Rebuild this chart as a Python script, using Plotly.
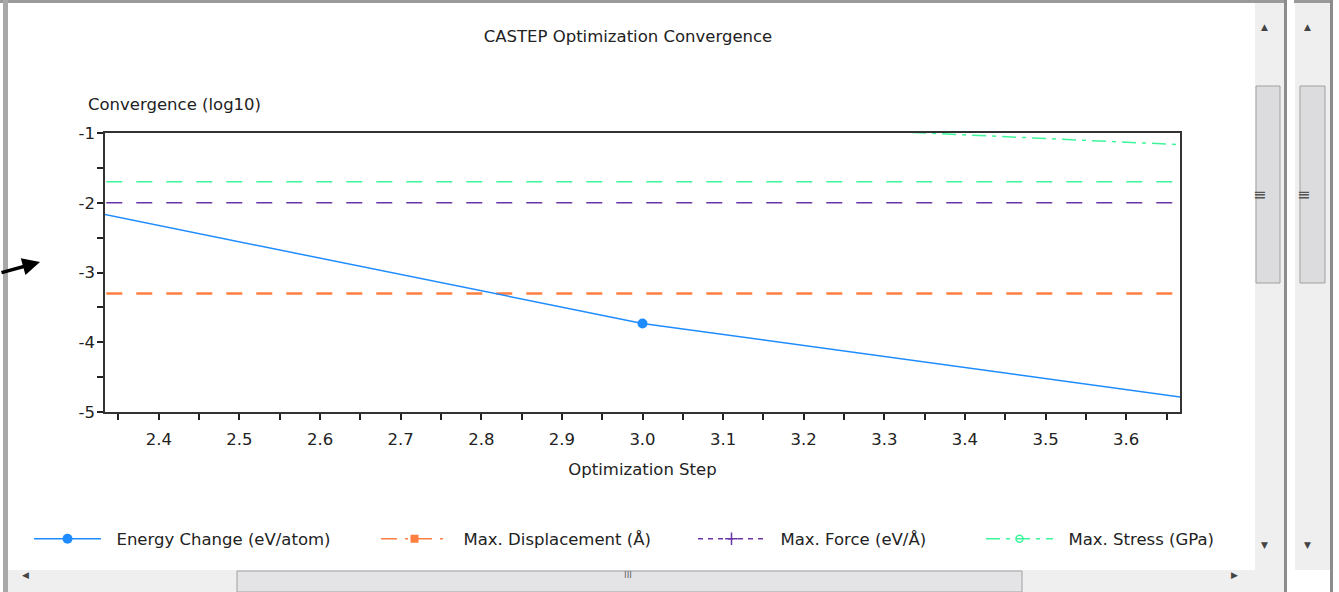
import plotly.graph_objects as go

# ---- data ----
steps = [2, 3, 4]
energy_change = [-1.39, -3.73, -5.31]          # log10(eV/atom)
stress_steps = [3, 4]
max_stress = [-0.815, -1.343]                  # log10(GPa)
tol_displacement = -3.301                      # log10(5e-4 A)
tol_force = -2.0                               # log10(0.01 eV/A)
tol_stress = -1.699                            # log10(0.02 GPa)
tol_x = [2, 4]

x_range = [2.3333, 3.6667]
y_range = [-5, -1]
y_tick_vals = [-5, -4, -3, -2, -1]
y_tick_labels = ["-5", "-4", "-3", "-2", "-1"]

BLUE = "#1E8CFF"
ORANGE = "#FF7F40"
PURPLE = "#6A35A8"
GREEN = "#3DF59A"
FONT = "DejaVu Sans"
FS = 16.5

W, H = 1339, 592
L, R, T, B = 105, 1180, 133, 412


def px(x):
    return (x - L) / (R - L)


def py(y):
    return (B - y) / (B - T)


NB = "\u00a0\u00a0"

fig = go.Figure()

# tolerance lines (no legend)
fig.add_trace(go.Scatter(x=tol_x, y=[tol_stress] * 2, mode="lines", showlegend=False,
                         line=dict(color=GREEN, width=1.5, dash="16px,14px"), hoverinfo="skip"))
fig.add_trace(go.Scatter(x=tol_x, y=[tol_force] * 2, mode="lines", showlegend=False,
                         line=dict(color=PURPLE, width=1.5, dash="16px,14px"), hoverinfo="skip"))
fig.add_trace(go.Scatter(x=tol_x, y=[tol_displacement] * 2, mode="lines", showlegend=False,
                         line=dict(color=ORANGE, width=2.5, dash="16px,14px"), hoverinfo="skip"))

# data series
fig.add_trace(go.Scatter(x=steps, y=energy_change, mode="lines+markers",
                         name=NB + "Energy Change (eV/atom)", legend="legend",
                         line=dict(color=BLUE, width=1.5),
                         marker=dict(symbol="circle", size=10, color=BLUE)))
fig.add_trace(go.Scatter(x=[None], y=[None], mode="lines+markers",
                         name=NB + "Max. Displacement (Å)", legend="legend2",
                         line=dict(color=ORANGE, width=1.5, dash="16px,8px,3px,8px"),
                         marker=dict(symbol="square", size=8, color=ORANGE)))
fig.add_trace(go.Scatter(x=[None], y=[None], mode="lines+markers",
                         name=NB + "Max. Force (eV/Å)", legend="legend3",
                         line=dict(color=PURPLE, width=1.5, dash="5px,5px"),
                         marker=dict(symbol="cross-thin", size=9, color=PURPLE,
                                     line=dict(color=PURPLE, width=1.5))))
fig.add_trace(go.Scatter(x=stress_steps, y=max_stress, mode="lines+markers",
                         name=NB + "Max. Stress (GPa)", legend="legend4",
                         line=dict(color=GREEN, width=1.5, dash="14px,6px,4px,6px"),
                         marker=dict(symbol="circle-open", size=7, color=GREEN,
                                     line=dict(color=GREEN, width=1.5))))

# window chrome
shapes = []
def rect(x0, y0, x1, y1, fill, line=None, lw=0):
    shapes.append(dict(type="rect", xref="paper", yref="paper", layer="above",
                       x0=px(x0), x1=px(x1), y0=py(y1), y1=py(y0),
                       fillcolor=fill, line=dict(color=line or fill, width=lw)))

rect(0, 0, 1285, 3, "#9a9a9a")          # top border
rect(1294, 0, 1333, 3, "#9a9a9a")
rect(3, 0, 8, 592, "#a8a8a8")           # left border
rect(1255, 3, 1284, 570, "#efefef")     # vertical scrollbar 1 track
rect(1284, 0, 1287, 592, "#8c8c8c")
rect(1256, 86, 1280, 283, "#dcdcde", "#a0a0a0", 1)
rect(1295, 3, 1330, 570, "#efefef")     # vertical scrollbar 2 track
rect(1330, 0, 1333, 592, "#8c8c8c")
rect(1300, 86, 1325, 283, "#dcdcde", "#a0a0a0", 1)
rect(8, 570, 1284, 592, "#efefef")      # horizontal scrollbar
rect(237, 571, 1022, 592, "#e4e4e6", "#a0a0a0", 1)
fig.update_layout(shapes=shapes)

annotations = [
    dict(text="Convergence (log10)", xref="paper", yref="paper", x=px(86), y=py(104),
         xanchor="left", yanchor="middle", showarrow=False,
         font=dict(family=FONT, size=FS, color="#222")),
    dict(text="", xref="paper", yref="paper", x=px(40), y=py(262),
         ax=-40, ay=11, showarrow=True, arrowhead=2, arrowsize=1, arrowwidth=3.5,
         arrowcolor="black"),
    dict(text="▲", xref="paper", yref="paper", x=px(1270), y=py(20), showarrow=False,
         font=dict(size=9, color="#444")),
    dict(text="▲", xref="paper", yref="paper", x=px(1313), y=py(20), showarrow=False,
         font=dict(size=9, color="#444")),
    dict(text="▼", xref="paper", yref="paper", x=px(1270), y=py(552), showarrow=False,
         font=dict(size=9, color="#444")),
    dict(text="▼", xref="paper", yref="paper", x=px(1313), y=py(552), showarrow=False,
         font=dict(size=9, color="#444")),
    dict(text="◀", xref="paper", yref="paper", x=px(20), y=py(582), showarrow=False,
         font=dict(size=9, color="#444")),
    dict(text="▶", xref="paper", yref="paper", x=px(1240), y=py(582), showarrow=False,
         font=dict(size=9, color="#444")),
    dict(text="III", xref="paper", yref="paper", x=px(628), y=py(582), showarrow=False,
         font=dict(size=9, color="#666")),
    dict(text="≡", xref="paper", yref="paper", x=px(1268), y=py(183), showarrow=False,
         font=dict(size=16, color="#555")),
    dict(text="≡", xref="paper", yref="paper", x=px(1312), y=py(183), showarrow=False,
         font=dict(size=16, color="#555")),
]

def leg(xpx):
    return dict(orientation="h", x=px(xpx), y=py(539), xanchor="left", yanchor="middle",
                itemwidth=67, font=dict(family=FONT, size=FS, color="#222"),
                bgcolor="rgba(0,0,0,0)")

fig.update_layout(
    width=W, height=H,
    margin=dict(l=L, r=W - R, t=T, b=H - B, pad=0),
    paper_bgcolor="white", plot_bgcolor="white",
    font=dict(family=FONT, size=FS, color="#222"),
    title=dict(text="CASTEP Optimization Convergence", xref="paper", x=px(628), xanchor="center",
               yref="container", y=1 - 36 / H, yanchor="middle",
               font=dict(family=FONT, size=FS, color="#222")),
    xaxis=dict(range=x_range, tickmode="linear", tick0=2.4, dtick=0.1, tickformat=".1f",
               showgrid=False, zeroline=False, showline=True, linecolor="#333", linewidth=1.5,
               mirror=True, ticks="outside", ticklen=6, tickcolor="#222", tickwidth=1.5,
               ticklabelstandoff=5,
               minor=dict(tickmode="linear", tick0=2.35, dtick=0.1, ticks="outside", ticklen=6,
                          tickcolor="#222", tickwidth=1.5),
               title=dict(text="Optimization Step", standoff=16, font=dict(family=FONT, size=FS)),
               tickfont=dict(family=FONT, size=FS)),
    yaxis=dict(range=y_range, tickmode="array", tickvals=y_tick_vals, ticktext=y_tick_labels,
               showgrid=False, zeroline=False, showline=True, linecolor="#333", linewidth=1.5,
               mirror=True, ticks="outside", ticklen=6, tickcolor="#222", tickwidth=1.5,
               ticklabelstandoff=-1,
               minor=dict(tickmode="linear", tick0=-4.5, dtick=1, ticks="outside", ticklen=6,
                          tickcolor="#222", tickwidth=1.5),
               tickfont=dict(family=FONT, size=FS)),
    legend=leg(29), legend2=leg(376), legend3=leg(693), legend4=leg(981),
    annotations=annotations,
    showlegend=True,
)

fig.write_html("out.html", config={"displayModeBar": False},
               post_script="document.body.style.margin='0';")
